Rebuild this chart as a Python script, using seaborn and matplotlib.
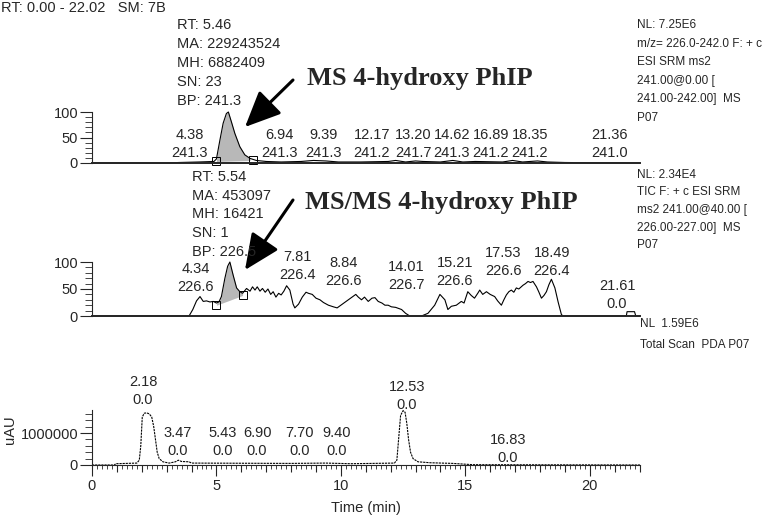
import numpy as np
import pandas as pd
import matplotlib
matplotlib.use("Agg")
import matplotlib.pyplot as plt
from matplotlib.ticker import MultipleLocator
import seaborn as sns

# --- trace data (time in min) ---
ms_time = [0.0, 3.0, 3.5, 4.3, 4.9, 5.0, 5.14, 5.27, 5.40, 5.48, 5.6, 5.74, 5.94, 6.14,
           6.35, 6.6, 7.0, 7.6, 8.4, 8.9, 9.4, 9.9, 10.8, 11.9, 12.2, 12.6, 13.0, 13.3,
           14.0, 14.5, 14.9, 15.4, 16.5, 16.9, 17.3, 17.9, 18.3, 19.0, 20.0, 21.0, 22.02]
ms_int = [0, 0, 1, 2, 3, 8, 45, 78, 97, 100, 81, 58, 32, 16,
          9, 5, 3, 2, 3, 5, 4, 2, 2, 3, 5, 2, 4, 3,
          2, 5, 2, 3, 2, 5, 2, 4, 2, 1, 0.5, 0.5, 0]

msms_time = [0.0, 3.9, 4.05, 4.2, 4.34, 4.47, 4.6, 4.74, 4.87, 5.0, 5.1, 5.2, 5.34, 5.45,
             5.54, 5.67, 5.81, 5.94, 6.05, 6.21, 6.35, 6.45, 6.55, 6.64, 6.75, 6.85, 6.96,
             7.07, 7.18, 7.28, 7.39, 7.5, 7.6, 7.71, 7.82, 7.95, 8.08, 8.15, 8.3, 8.45, 8.6,
             8.7, 8.85, 9.0, 9.16, 9.3, 9.5, 9.7, 9.85, 10.0, 10.15, 10.3, 10.45, 10.6, 10.7,
             10.83, 10.95, 11.1, 11.25, 11.37, 11.5, 11.65, 11.77, 11.9, 12.03, 12.2, 12.44,
             12.6, 12.77, 13.24, 13.5, 13.77, 13.98, 14.18, 14.3, 14.44, 14.64, 14.84, 14.95,
             15.1, 15.24, 15.37, 15.5, 15.58, 15.7, 15.85, 16.0, 16.18, 16.3, 16.45, 16.55,
             16.65, 16.75, 16.85, 16.95, 17.05, 17.15, 17.32, 17.42, 17.52, 17.62, 17.72,
             17.86, 17.95, 18.06, 18.16, 18.26, 18.36, 18.46, 18.6, 18.73, 18.86, 18.92,
             21.47, 21.5, 21.8, 21.85, 22.02]
msms_int = [0, 0, 12, 28, 36, 27, 28, 26, 27, 24, 26, 36, 70, 92,
            100, 76, 52, 45, 42, 51, 46, 54, 48, 54, 46, 51, 44,
            50, 40, 45, 35, 42, 39, 46, 56, 48, 22, 15, 22, 35, 44,
            42, 40, 33, 30, 25, 20, 17, 15, 20, 25, 30, 35, 40, 35,
            30, 35, 27, 33, 34, 27, 24, 20, 20, 17, 16, 12,
            5, 0, 0, 5, 20, 40, 30, 12, 18, 20, 27, 24,
            45, 38, 33, 42, 48, 40, 45, 40, 36, 28, 20, 30,
            39, 45, 48, 44, 52, 50, 57, 60, 64, 62, 64,
            54, 45, 33, 38, 45, 58, 68, 52, 26, 3, 0,
            0, 8, 8, 0, 0]

uv_time = [0.0, 0.9, 0.95, 1.8, 1.9, 1.96, 2.02, 2.1, 2.2, 2.3, 2.4, 2.48, 2.55, 2.62,
           2.7, 2.85, 3.1, 3.35, 3.47, 3.6, 3.9, 4.0, 8.0, 9.4, 10.4, 12.15, 12.25, 12.33,
           12.4, 12.5, 12.58, 12.65, 12.72, 12.8, 12.9, 13.1, 13.6, 14.5, 15.3, 22.02]
uv_int = [0, 0, 40000, 60000, 150000, 600000, 1500000, 1620000, 1630000, 1600000, 1500000,
          1200000, 800000, 400000, 200000, 100000, 60000, 100000, 150000, 110000, 100000,
          60000, 50000, 60000, 40000, 60000, 150000, 900000, 1550000, 1700000, 1650000,
          1300000, 800000, 400000, 200000, 100000, 70000, 50000, 10000, 0]

# peak labels: (retention time, base peak) and where they sit (pixels)
ms_labels = ["4.38", "6.94", "9.39", "12.17", "13.20", "14.62", "16.89", "18.35", "21.36"]
ms_bp = ["241.3", "241.3", "241.3", "241.2", "241.7", "241.3", "241.2", "241.2", "241.0"]
ms_lab_x = [190, 279, 324, 372, 413, 452, 491, 530, 610]

msms_labels = ["4.34", "7.81", "8.84", "14.01", "15.21", "17.53", "18.49", "21.61"]
msms_bp = ["226.6", "226.4", "226.6", "226.7", "226.6", "226.6", "226.4", "0.0"]
msms_lab_x = [196, 297, 344, 406, 455, 503, 552, 617]
msms_lab_y = [269, 257, 263, 267, 263, 253, 253, 286]

uv_labels = ["2.18", "3.47", "5.43", "6.90", "7.70", "9.40", "12.53", "16.83"]
uv_lab_x = [143, 178, 223, 257, 300, 337, 407, 508]
uv_lab_y = [382, 433, 433, 433, 433, 433, 387, 440]

W, H = 778, 519

sns.set_style("ticks")
plt.rcParams['font.family'] = ['Liberation Sans', 'DejaVu Sans']

fig = plt.figure(figsize=(W / 100, H / 100), dpi=100)


def box(x0, y_bottom, y_top):
    # axes rect from pixel coordinates (y measured from top)
    return [x0 / W, 1 - y_bottom / H, (640 - x0) / W, (y_bottom - y_top) / H]


def ftext(x, y, s, **kw):
    fig.text(x / W, 1 - y / H, s, **kw)


ax1 = fig.add_axes(box(92, 163, 112))
ax2 = fig.add_axes(box(92, 316, 262))
ax3 = fig.add_axes(box(92, 465, 410))

ms = pd.DataFrame({"t": ms_time, "y": ms_int})
msms = pd.DataFrame({"t": msms_time, "y": msms_int})
uv = pd.DataFrame({"t": uv_time, "y": uv_int})

sns.lineplot(data=ms, x="t", y="y", ax=ax1, color="black", lw=0.8, clip_on=False)
sns.lineplot(data=msms, x="t", y="y", ax=ax2, color="black", lw=0.8, clip_on=False)
sns.lineplot(data=uv, x="t", y="y", ax=ax3, color="black", lw=0.8,
             linestyle=(0, (2, 0.8)), clip_on=False)

# shaded integrated peaks
t1 = np.array(ms_time)
y1 = np.array(ms_int, dtype=float)
m1 = (t1 >= 5.0) & (t1 <= 6.45)
base1 = np.interp(t1[m1], [5.0, 6.45], [3, 5])
ax1.fill_between(t1[m1], base1, y1[m1], color="#b8b8b8", lw=0)
ax1.plot([5.0, 6.45], [3, 5], ls="none", marker="s", ms=6, mfc="none", mec="black", mew=0.7,
         clip_on=False)

t2 = np.array(msms_time)
y2 = np.array(msms_int, dtype=float)
m2 = (t2 >= 5.0) & (t2 <= 6.05)
base2 = np.interp(t2[m2], [5.0, 6.05], [20, 38])
ax2.fill_between(t2[m2], base2, y2[m2], color="#b8b8b8", lw=0)
ax2.plot([5.0, 6.05], [20, 38], ls="none", marker="s", ms=6, mfc="none", mec="black", mew=0.7,
         clip_on=False)

for ax in (ax1, ax2):
    ax.set_xlim(0, 22.02)
    ax.set_ylim(0, 100)
    ax.set_yticks([0, 50, 100])
    ax.yaxis.set_minor_locator(MultipleLocator(10))
    ax.set_xticks([])
    ax.set_xlabel("")
    ax.set_ylabel("")
    ax.tick_params(axis="y", which="major", length=9, width=0.8, labelsize=10.5, pad=1)
    ax.tick_params(axis="y", which="minor", length=5, width=0.6)
    ax.spines["bottom"].set_linewidth(1.4)

ax3.set_xlim(0, 22.02)
ax3.set_ylim(0, 1720000)
ax3.set_yticks([0, 1000000])
ax3.set_yticklabels(["0", "1000000"])
ax3.yaxis.set_minor_locator(MultipleLocator(200000))
ax3.set_xticks(np.arange(0, 23, 1))
ax3.set_xticklabels([str(v) if v % 5 == 0 else "" for v in range(0, 23)])
ax3.xaxis.set_minor_locator(MultipleLocator(0.2))
ax3.tick_params(axis="y", which="major", length=9, width=0.8, labelsize=10.5, pad=1)
ax3.tick_params(axis="y", which="minor", length=5, width=0.6)
ax3.tick_params(axis="x", which="major", length=8, width=0.8, labelsize=10.5, pad=2)
ax3.tick_params(axis="x", which="minor", length=3, width=0.6)
for i, tk in enumerate(ax3.xaxis.get_major_ticks()):
    if i % 5 != 0:
        tk.tick1line.set_markersize(5)
ax3.set_xlabel("Time (min)", fontsize=10.5, labelpad=6)
ax3.set_ylabel("uAU", fontsize=10.5, labelpad=0)
ax3.yaxis.set_label_coords(-0.137, 0.64)

for ax in (ax1, ax2, ax3):
    sns.despine(ax=ax)

# header / info text
ftext(1, 8, "RT: 0.00 - 22.02   SM: 7B", fontsize=10.5, va="center")

for i, s in enumerate(["RT: 5.46", "MA: 229243524", "MH: 6882409", "SN: 23", "BP: 241.3"]):
    ftext(177, 25 + i * 19, s, fontsize=10.5, va="center")
for i, s in enumerate(["RT: 5.54", "MA: 453097", "MH: 16421", "SN: 1", "BP: 226.5"]):
    ftext(192, 177 + i * 18.7, s, fontsize=10.5, va="center")

for i, s in enumerate(["NL: 7.25E6", "m/z= 226.0-242.0 F: + c", "ESI SRM ms2",
                       "241.00@0.00 [", "241.00-242.00]  MS", "P07"]):
    ftext(637, 25 + i * 18.6, s, fontsize=8.5, va="center")
for i, s in enumerate(["NL: 2.34E4", "TIC F: + c ESI SRM", "ms2 241.00@40.00 [",
                       "226.00-227.00]  MS", "P07"]):
    ftext(637, 175 + i * 17.5, s, fontsize=8.5, va="center")
ftext(640, 324, "NL  1.59E6", fontsize=8.5, va="center")
ftext(640, 345, "Total Scan  PDA P07", fontsize=8.5, va="center")

# peak labels
for lab, bp, x in zip(ms_labels, ms_bp, ms_lab_x):
    ftext(x, 135, lab, fontsize=10.5, ha="center", va="center")
    ftext(x, 153, bp, fontsize=10.5, ha="center", va="center")
for lab, bp, x, y in zip(msms_labels, msms_bp, msms_lab_x, msms_lab_y):
    ftext(x, y, lab, fontsize=10.5, ha="center", va="center")
    ftext(x, y + 18, bp, fontsize=10.5, ha="center", va="center")
for lab, x, y in zip(uv_labels, uv_lab_x, uv_lab_y):
    ftext(x, y, lab, fontsize=10.5, ha="center", va="center")
    ftext(x, y + 18, "0.0", fontsize=10.5, ha="center", va="center")

# bold call-outs with arrows
ftext(307, 78, "MS 4-hydroxy PhIP", fontsize=19, fontweight="bold",
      family="Liberation Serif", va="center")
ftext(305, 202, "MS/MS 4-hydroxy PhIP", fontsize=19, fontweight="bold",
      family="Liberation Serif", va="center")
arrow = dict(arrowstyle="-|>,head_length=1.0,head_width=0.45", lw=2.2, color="black",
             mutation_scale=22, shrinkA=0, shrinkB=0)
ax1.annotate("", xy=(245, H - 127), xycoords="figure pixels",
             xytext=(293, H - 80), textcoords="figure pixels",
             arrowprops=arrow, annotation_clip=False)
ax2.annotate("", xy=(245, H - 270), xycoords="figure pixels",
             xytext=(293, H - 200), textcoords="figure pixels",
             arrowprops=arrow, annotation_clip=False)

fig.savefig("out.png", dpi=100)
